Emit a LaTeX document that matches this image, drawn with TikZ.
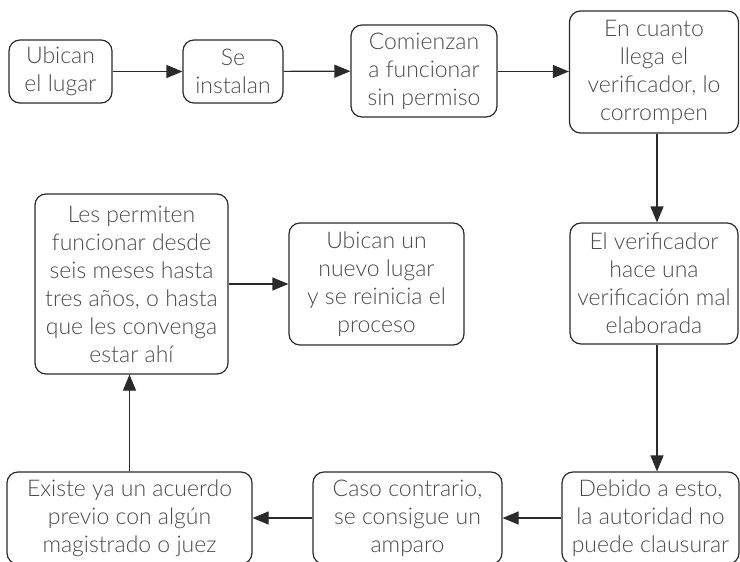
\documentclass[tikz,border=0pt]{standalone}
\usepackage{fontspec}
\setmainfont{Lato}[UprightFont=* Light]
\usetikzlibrary{arrows.meta}
\definecolor{txt}{HTML}{4A4A4A}
\definecolor{edge}{HTML}{2A2A2A}
\tikzset{
  box/.style={draw=edge, line width=1.2pt, rounded corners=11pt, align=center,
    text=txt, inner sep=0pt, font=\fontsize{23}{28}\selectfont},
  conn/.style={draw=edge, line width=1.2pt, -{Triangle[length=16pt,width=13pt]}}
}
\begin{document}
\begin{tikzpicture}[x=1pt,y=-1pt]
\useasboundingbox (0,0) rectangle (740,562);
\clip (0,0) rectangle (740,562);
\node[box, minimum width=103pt, minimum height=63pt] (b1) at (60.5,71.5) {Ubican\\el lugar};
\node[box, minimum width=100pt, minimum height=63pt] (b2) at (233,71.5) {Se\\instalan};
\node[box, minimum width=146pt, minimum height=92pt] (b3) at (424,71) {Comienzan\\a funcionar\\sin permiso};
\node[box, minimum width=169pt, minimum height=122pt] (b4) at (654,72) {En cuanto\\llega el\\verificador, lo\\corrompen};
\node[box, minimum width=168pt, minimum height=121pt] (b5) at (654,283.5) {El verificador\\hace una\\verificación mal\\elaborada};
\node[box, minimum width=177pt, minimum height=92pt] (b6) at (650.5,518) {Debido a esto,\\la autoridad no\\puede clausurar};
\node[box, minimum width=189pt, minimum height=92pt] (b7) at (407.5,518) {Caso contrario,\\se consigue un\\amparo};
\node[box, minimum width=245pt, minimum height=92pt] (b8) at (129.5,518) {Existe ya un acuerdo\\previo con algún\\magistrado o juez};
\node[box, minimum width=193pt, minimum height=180pt] (b9) at (131.5,284) {Les permiten\\funcionar desde\\seis meses hasta\\tres años, o hasta\\que les convenga\\estar ahí};
\node[box, minimum width=175pt, minimum height=122pt] (b10) at (376.5,284) {Ubican un\\nuevo lugar\\y se reinicia el\\proceso};
\draw[conn] (b1) -- (b2);
\draw[conn] (b2) -- (b3);
\draw[conn] (b3.east |- b1.east) -- (b4.west |- b1.east);
\draw[conn] ([xshift=3pt]b4.south) -- ([xshift=3pt]b5.north);
\draw[conn] ([xshift=3pt]b5.south) -- ([xshift=3pt]b5.south |- b6.north);
\draw[conn] (b6) -- (b7);
\draw[conn] (b7) -- (b8);
\draw[conn] (b8.north) -- (b8.north |- b9.south);
\draw[conn] (b9.east |- b10.east) -- (b10.west);
\end{tikzpicture}
\end{document}
